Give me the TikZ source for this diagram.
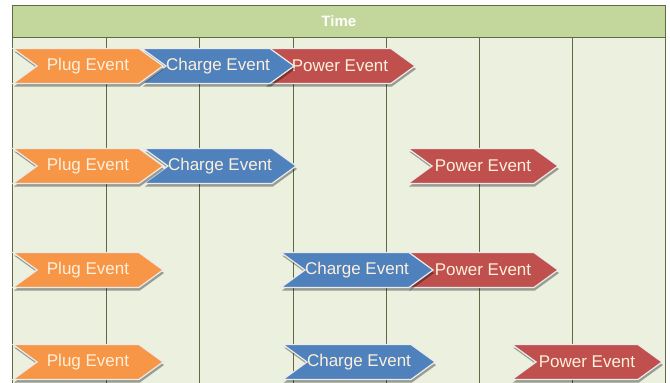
\documentclass[tikz,border=0pt]{standalone}
\usepackage{fontspec}
\setmainfont{Liberation Sans}
\usetikzlibrary{shapes.symbols,shadows}
\definecolor{hdr}{HTML}{C3D69B}
\definecolor{cellbg}{HTML}{EBF0DF}
\definecolor{gridln}{HTML}{5F6A45}
\definecolor{plugc}{HTML}{F79646}
\definecolor{chargec}{HTML}{4F81BD}
\definecolor{powerc}{HTML}{C0504D}
\definecolor{txtc}{HTML}{FDF0DC}
\tikzset{
  chev/.style={shape=signal, signal to=east, signal from=west, signal pointer angle=72,
    minimum width=150pt, minimum height=35pt, inner sep=0pt, draw=white!92!black, line width=1.2pt,
    text=txtc, font=\fontsize{17}{17}\selectfont,
    drop shadow={shadow xshift=1pt, shadow yshift=-3pt, opacity=0.35, fill=black}},
  plugbox/.style={chev, fill=plugc},
  chargebox/.style={chev, fill=chargec},
  powerbox/.style={chev, fill=powerc},
  gridline/.style={draw=gridln, line width=0.7pt}
}
\begin{document}
\begin{tikzpicture}[x=1pt,y=-1pt]
\useasboundingbox (0,0) rectangle (670,383);
\fill[white] (0,0) rectangle (670,383);
% table body
\fill[cellbg] (12,37) rectangle (665,383);
\node[fill=hdr, draw=gridln, line width=0.7pt, minimum width=653pt, minimum height=32pt, anchor=north west, inner sep=0pt,
  text=white, font=\bfseries\fontsize{15}{15}\selectfont] (hdr) at (12,5) {Time};
\foreach \x in {12,106,199,293,386,479,572,665} {
  \draw[gridline] (\x,37) -- (\x,383);
}
% row 4
\node[powerbox] (pow4) at (587,362) {Power Event};
\node[chargebox] (chg4) at (359,362) {Charge Event};
\node[plugbox] (plg4) at (88,362) {Plug Event};
% row 3
\node[powerbox] (pow3) at (483,270) {Power Event};
\node[chargebox] (chg3) at (357,270) {Charge Event};
\node[plugbox] (plg3) at (88,270) {Plug Event};
% row 2
\node[powerbox] (pow2) at (483,166) {Power Event};
\node[chargebox] (chg2) at (220,166) {Charge Event};
\node[plugbox] (plg2) at (88,166) {Plug Event};
% row 1
\node[powerbox] (pow1) at (340,66) {Power Event};
\node[chargebox] (chg1) at (218,66) {Charge Event};
\node[plugbox] (plg1) at (88,66) {Plug Event};
\end{tikzpicture}
\end{document}
